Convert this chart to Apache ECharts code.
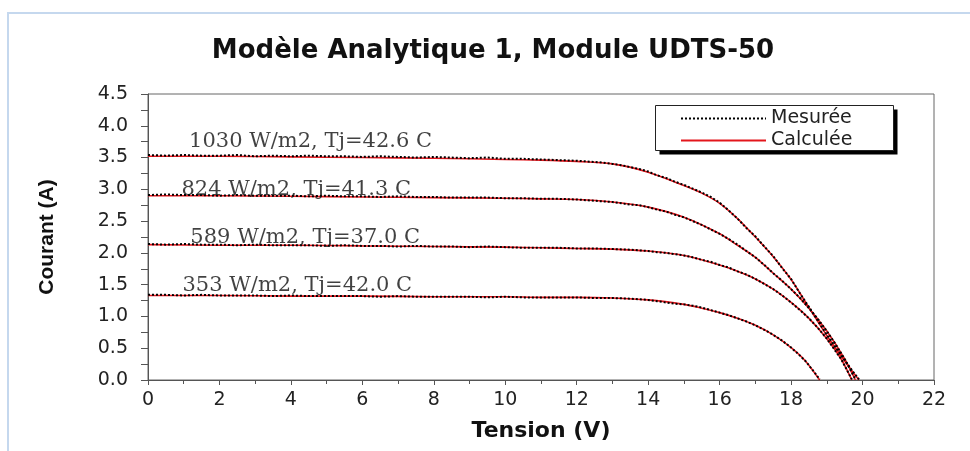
<!DOCTYPE html>
<html>
<head>
<meta charset="utf-8">
<script src="https://cdn.jsdelivr.net/npm/echarts@6/dist/echarts.min.js"></script>
<style>
html,body{margin:0;padding:0;background:#fff;}
#c{width:970px;height:451px;}
</style>
</head>
<body>
<div id="c"></div>
<script>
// ---- Data ----
const titleText = 'Modèle Analytique 1, Module UDTS-50';
const xTicks = [0,2,4,6,8,10,12,14,16,18,20,22];
const yTicks = [0.0,0.5,1.0,1.5,2.0,2.5,3.0,3.5,4.0,4.5];

// Calculated curves (V, I)
const calcV1030 = [0,2,4,6,8,10,11,12,13,14,15,15.5,16,16.5,17,17.5,18,18.5,19,19.5,19.9];
const calcI1030 = [3.52,3.52,3.51,3.50,3.49,3.47,3.46,3.44,3.40,3.27,3.06,2.94,2.78,2.54,2.25,1.94,1.58,1.14,0.70,0.30,0.00];
const calcV824 = [0,2,4,6,8,10,11,12,13,14,15,16,16.5,17,17.5,18,18.5,19,19.5,19.8];
const calcI824 = [2.90,2.90,2.89,2.88,2.87,2.86,2.85,2.84,2.80,2.72,2.56,2.30,2.12,1.93,1.68,1.43,1.13,0.77,0.33,0.00];
const calcV589 = [0,2,4,6,8,10,11,12,13,14,15,16,16.5,17,17.5,18,18.5,19,19.4,19.7];
const calcI589 = [2.13,2.12,2.12,2.11,2.10,2.09,2.08,2.07,2.06,2.03,1.96,1.81,1.71,1.59,1.43,1.22,0.97,0.65,0.33,0.00];
const calcV353 = [0,2,4,6,8,10,11,12,13,14,15,15.5,16,16.5,17,17.5,18,18.4,18.8];
const calcI353 = [1.33,1.33,1.32,1.32,1.31,1.31,1.30,1.30,1.29,1.26,1.19,1.13,1.06,0.97,0.86,0.71,0.51,0.30,0.00];

// Measured curves [V, I]
const mes1030 = [[0,3.54],[0.5,3.53],[1,3.54],[1.5,3.53],[2,3.53],[2.5,3.54],[3,3.52],[3.5,3.53],[4,3.52],[4.5,3.53],[5,3.52],[5.5,3.52],[6,3.51],[6.5,3.52],[7,3.51],[7.5,3.50],[8,3.51],[8.5,3.50],[9,3.49],[9.5,3.50],[10,3.48],[10.5,3.48],[11,3.47],[11.5,3.46],[12,3.45],[12.25,3.44],[12.5,3.43],[12.75,3.42],[13,3.40],[13.25,3.38],[13.5,3.35],[13.75,3.32],[14,3.28],[14.25,3.22],[14.5,3.18],[14.75,3.12],[15,3.07],[15.25,3.01],[15.5,2.95],[15.75,2.88],[16,2.79],[16.25,2.67],[16.5,2.54],[16.75,2.39],[17,2.26],[17.25,2.10],[17.5,1.95],[17.75,1.76],[18,1.59],[18.25,1.36],[18.5,1.15],[18.75,0.93],[19,0.71],[19.25,0.51],[19.5,0.31],[19.75,0.12],[19.9,0.01]];
const mes824 = [[0,2.91],[0.5,2.92],[1,2.91],[1.5,2.91],[2,2.90],[2.5,2.91],[3,2.90],[3.5,2.90],[4,2.90],[4.5,2.89],[5,2.90],[5.5,2.89],[6,2.89],[6.5,2.88],[7,2.89],[7.5,2.88],[8,2.88],[8.5,2.87],[9,2.87],[9.5,2.87],[10,2.86],[10.5,2.86],[11,2.85],[11.5,2.85],[12,2.84],[12.25,2.83],[12.5,2.82],[12.75,2.81],[13,2.80],[13.25,2.78],[13.5,2.76],[13.75,2.75],[14,2.72],[14.25,2.68],[14.5,2.65],[14.75,2.60],[15,2.56],[15.25,2.50],[15.5,2.44],[15.75,2.37],[16,2.30],[16.25,2.22],[16.5,2.13],[16.75,2.03],[17,1.93],[17.25,1.81],[17.5,1.68],[17.75,1.56],[18,1.43],[18.25,1.29],[18.5,1.13],[18.75,0.96],[19,0.77],[19.25,0.56],[19.5,0.33],[19.65,0.17],[19.8,0.01]];
const mes589 = [[0,2.14],[0.5,2.13],[1,2.14],[1.5,2.13],[2,2.13],[2.5,2.12],[3,2.13],[3.5,2.12],[4,2.12],[4.5,2.12],[5,2.11],[5.5,2.12],[6,2.11],[6.5,2.11],[7,2.10],[7.5,2.11],[8,2.10],[8.5,2.10],[9,2.09],[9.5,2.10],[10,2.09],[10.5,2.08],[11,2.08],[11.5,2.08],[12,2.07],[12.5,2.07],[13,2.06],[13.5,2.05],[14,2.03],[14.25,2.01],[14.5,2.00],[14.75,1.98],[15,1.96],[15.25,1.93],[15.5,1.89],[15.75,1.86],[16,1.81],[16.25,1.77],[16.5,1.71],[16.75,1.66],[17,1.59],[17.25,1.51],[17.5,1.43],[17.75,1.33],[18,1.22],[18.25,1.10],[18.5,0.97],[18.75,0.82],[19,0.65],[19.2,0.49],[19.4,0.33],[19.55,0.17],[19.7,0.01]];
const mes353 = [[0,1.34],[0.5,1.34],[1,1.33],[1.5,1.34],[2,1.33],[2.5,1.33],[3,1.33],[3.5,1.32],[4,1.33],[4.5,1.32],[5,1.32],[5.5,1.32],[6,1.32],[6.5,1.31],[7,1.32],[7.5,1.31],[8,1.31],[8.5,1.31],[9,1.31],[9.5,1.30],[10,1.31],[10.5,1.30],[11,1.30],[11.5,1.30],[12,1.30],[12.5,1.29],[13,1.29],[13.5,1.28],[14,1.26],[14.25,1.24],[14.5,1.22],[14.75,1.20],[15,1.19],[15.25,1.17],[15.5,1.14],[15.75,1.10],[16,1.06],[16.25,1.02],[16.5,0.97],[16.75,0.92],[17,0.86],[17.25,0.79],[17.5,0.71],[17.75,0.62],[18,0.51],[18.2,0.41],[18.4,0.30],[18.6,0.16],[18.8,0.01]];

// Curve annotations
const labelText = ['1030 W/m2, Tj=42.6 C','824 W/m2, Tj=41.3 C','589 W/m2, Tj=37.0 C','353 W/m2, Tj=42.0 C'];
const labelV = [4.55, 4.15, 4.40, 4.18];
const labelI = [3.75, 3.00, 2.24, 1.49];

const legendNames = ['Mesurée','Calculée'];

// ---- Build ----
const RED = '#e3161c';
const zip = (a,b) => a.map((v,i)=>[v,b[i]]);
const calcSets = [[calcV1030,calcI1030],[calcV824,calcI824],[calcV589,calcI589],[calcV353,calcI353]];
const mesSets = [mes1030, mes824, mes589, mes353];

const series = [];
calcSets.forEach(([v,i]) => series.push({
  name: legendNames[1], type:'line', symbol:'none', smooth:0.3, data: zip(v,i),
  lineStyle:{color:RED, width:1.6}, itemStyle:{color:RED}, z:2, silent:true
}));
mesSets.forEach(d => series.push({
  name: legendNames[0], type:'line', symbol:'none', data: d,
  lineStyle:{color:'#000', width:2, type:'dotted'}, itemStyle:{color:'#000'}, z:3, silent:true
}));
series.push({
  type:'scatter', symbolSize:0, silent:true, z:4,
  data: labelText.map((t,k)=>({name:t, value:[labelV[k], labelI[k]]})),
  label:{show:true, position:'inside', formatter:p=>p.name,
    fontFamily:'DejaVu Serif', fontSize:21, color:'#111'}
});

const chart = echarts.init(document.getElementById('c'), null, {renderer:'canvas'});
chart.setOption({
  animation:false,
  backgroundColor:'#fff',
  title:{text:titleText, left:488, top:33, textAlign:'center',
    textStyle:{fontFamily:'DejaVu Sans', fontWeight:'bold', fontSize:26, color:'#111'}},
  graphic:[
    {type:'line', shape:{x1:8, y1:13, x2:970, y2:13}, style:{stroke:'#c5d8ee', lineWidth:2}, silent:true},
    {type:'line', shape:{x1:8, y1:12, x2:8, y2:451}, style:{stroke:'#c5d8ee', lineWidth:2}, silent:true},
    {type:'rect', z:10, shape:{x:659.5, y:109.5, width:238, height:45}, style:{fill:'#000'}, silent:true},
    {type:'rect', z:11, shape:{x:655.5, y:105.5, width:238, height:45}, style:{fill:'#fff', stroke:'#222', lineWidth:1}, silent:true}
  ],
  legend:{
    data:legendNames, orient:'vertical', left:680, top:109, z:20,
    itemWidth:85, itemHeight:14, itemGap:3, padding:0,
    itemStyle:{opacity:0},
    textStyle:{fontFamily:'DejaVu Sans', fontSize:19, color:'#222'},
    selectedMode:false
  },
  grid:{left:148, right:36, top:94, bottom:71, show:true, borderColor:'#666', borderWidth:1},
  xAxis:{
    type:'value', min:0, max:22, interval:2,
    name:'Tension (V)', nameLocation:'middle', nameGap:40,
    nameTextStyle:{fontFamily:'DejaVu Sans', fontWeight:'bold', fontSize:22, color:'#111'},
    axisLine:{show:true, lineStyle:{color:'#555', width:1}},
    axisTick:{show:true, inside:false, length:5, lineStyle:{color:'#555'}},
    minorTick:{show:true, splitNumber:2, length:4, lineStyle:{color:'#555'}},
    splitLine:{show:false},
    axisLabel:{margin:11, fontFamily:'DejaVu Sans', fontSize:19, color:'#222',
      formatter:v=> xTicks.includes(v) ? String(v) : ''}
  },
  yAxis:{
    type:'value', min:0, max:4.5, interval:0.5,
    name:'Courant (A)', nameLocation:'middle', nameGap:90, nameRotate:90,
    nameTextStyle:{fontFamily:'Liberation Sans', fontWeight:'bold', fontSize:21, color:'#111'},
    axisLine:{show:true, lineStyle:{color:'#555', width:1}},
    axisTick:{show:true, inside:false, length:7, lineStyle:{color:'#555'}},
    minorTick:{show:true, splitNumber:2, length:7, lineStyle:{color:'#555'}},
    splitLine:{show:false},
    axisLabel:{margin:20, fontFamily:'DejaVu Sans', fontSize:19, color:'#222',
      formatter:v=> yTicks.some(t=>Math.abs(t-v)<1e-9) ? v.toFixed(1) : ''}
  },
  series:series
});
</script>
</body>
</html>
